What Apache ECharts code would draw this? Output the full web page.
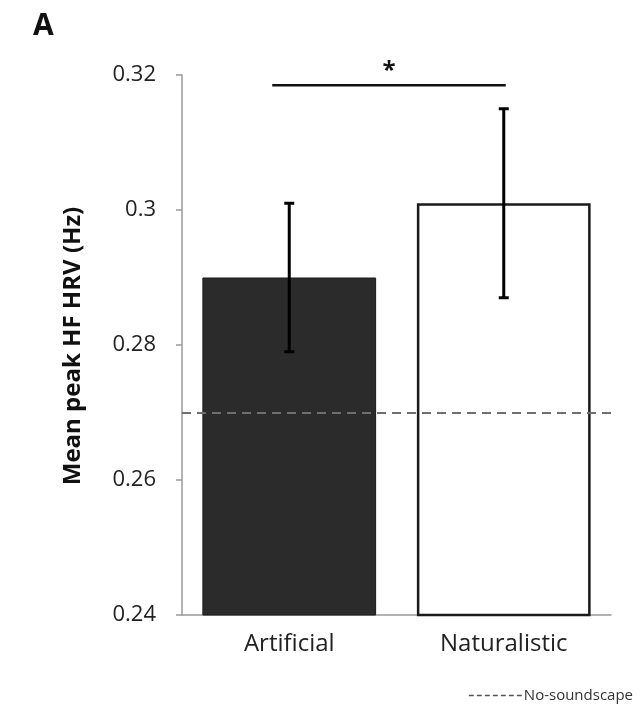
<!DOCTYPE html>
<html>
<head>
<meta charset="utf-8">
<script src="https://cdn.jsdelivr.net/npm/echarts@6/dist/echarts.min.js"></script>
<style>
  html, body { margin: 0; padding: 0; background: #fff; }
  #chart { width: 644px; height: 706px; }
</style>
</head>
<body>
<div id="chart"></div>
<script>
// Mean peak HF HRV per soundscape condition
const categories = ['Artificial', 'Naturalistic'];
const meanValues = [0.290, 0.301];
const errLow = [0.279, 0.287];
const errHigh = [0.301, 0.315];
const baselineValue = 0.2695;       // No-soundscape reference level
const baselineName = 'No-soundscape';
const sigPair = [0, 1];             // compared conditions
const sigLevel = 0.3185;            // height of the significance bracket
const sigLabel = '*';
const yTicks = { min: 0.24, max: 0.32, step: 0.02 };

const barColors = ['#2b2b2b', '#ffffff'];
const axisGrey = '#9a9a9a';
const fontFam = '"Open Sans", "Noto Sans", sans-serif';

const chart = echarts.init(document.getElementById('chart'));

chart.setOption({
  animation: false,
  backgroundColor: '#ffffff',
  title: {
    text: 'A',
    left: 28,
    top: 6,
    textStyle: { fontFamily: fontFam, fontSize: 30, fontWeight: 'bold', color: '#111' }
  },
  grid: { left: 182, right: 33, top: 75, bottom: 91 },
  xAxis: {
    type: 'category',
    data: categories,
    axisLine: { lineStyle: { color: axisGrey, width: 1.5 } },
    axisTick: { show: false },
    axisLabel: { fontFamily: fontFam, fontSize: 24, color: '#222', margin: 17 }
  },
  yAxis: {
    type: 'value',
    min: yTicks.min,
    max: yTicks.max,
    interval: yTicks.step,
    axisLine: { show: true, lineStyle: { color: axisGrey, width: 1.5 } },
    axisTick: { show: true, length: 6, lineStyle: { color: axisGrey, width: 1.5 } },
    splitLine: { show: false },
    axisLabel: { fontFamily: fontFam, fontSize: 22, color: '#222', margin: 26 }
  },
  graphic: [
    {
      // y axis title
      type: 'text',
      x: 73,
      y: 346,
      rotation: Math.PI / 2,
      style: {
        text: 'Mean peak HF HRV (Hz)',
        fontFamily: fontFam,
        fontSize: 24,
        fontWeight: 'bold',
        fill: '#111',
        textAlign: 'center',
        textVerticalAlign: 'middle'
      }
    },
    {
      // key for the dashed reference line
      type: 'group',
      right: 11,
      bottom: 3,
      children: [
        {
          type: 'line',
          shape: { x1: 0, y1: 9, x2: 54, y2: 9 },
          style: { stroke: '#555', lineWidth: 1.6, lineDash: [5, 3] }
        },
        {
          type: 'text',
          x: 55,
          y: 9,
          style: {
            text: baselineName,
            fontFamily: fontFam,
            fontSize: 15,
            fill: '#333',
            textVerticalAlign: 'middle'
          }
        }
      ]
    }
  ],
  series: [
    {
      type: 'bar',
      barWidth: '81%',
      data: meanValues.map((v, i) => ({
        value: v,
        itemStyle: {
          color: barColors[i],
          borderColor: '#1a1a1a',
          borderWidth: i === 1 ? 2.5 : 1
        }
      })),
      markLine: {
        silent: true,
        symbol: 'none',
        label: { show: false },
        lineStyle: { color: '#6f6f6f', type: [9, 6], width: 2.2 },
        data: [{ name: baselineName, yAxis: baselineValue }]
      },
      z: 2
    },
    {
      // error bars
      type: 'custom',
      data: categories.map((c, i) => [i, errLow[i], errHigh[i]]),
      renderItem: function (params, api) {
        const lo = api.coord([api.value(0), api.value(1)]);
        const hi = api.coord([api.value(0), api.value(2)]);
        const cap = 5;
        const st = { stroke: '#000', lineWidth: 3 };
        return {
          type: 'group',
          children: [
            { type: 'line', shape: { x1: hi[0], y1: hi[1], x2: lo[0], y2: lo[1] }, style: st },
            { type: 'line', shape: { x1: hi[0] - cap, y1: hi[1], x2: hi[0] + cap, y2: hi[1] }, style: st },
            { type: 'line', shape: { x1: lo[0] - cap, y1: lo[1], x2: lo[0] + cap, y2: lo[1] }, style: st }
          ]
        };
      },
      z: 5
    },
    {
      // significance bracket
      type: 'custom',
      data: [[sigPair[0], sigPair[1], sigLevel]],
      renderItem: function (params, api) {
        const a = api.coord([api.value(0), api.value(2)]);
        const b = api.coord([api.value(1), api.value(2)]);
        const x1 = a[0] - 17;
        const x2 = b[0] + 2;
        return {
          type: 'group',
          children: [
            { type: 'line', shape: { x1: x1, y1: a[1], x2: x2, y2: a[1] }, style: { stroke: '#111', lineWidth: 2.5 } },
            {
              type: 'text',
              x: (x1 + x2) / 2,
              y: a[1] - 14,
              style: {
                text: sigLabel,
                fontFamily: fontFam,
                fontSize: 24,
                fontWeight: 'bold',
                fill: '#111',
                textAlign: 'center',
                textVerticalAlign: 'middle'
              }
            }
          ]
        };
      },
      z: 5
    }
  ]
});
</script>
</body>
</html>
